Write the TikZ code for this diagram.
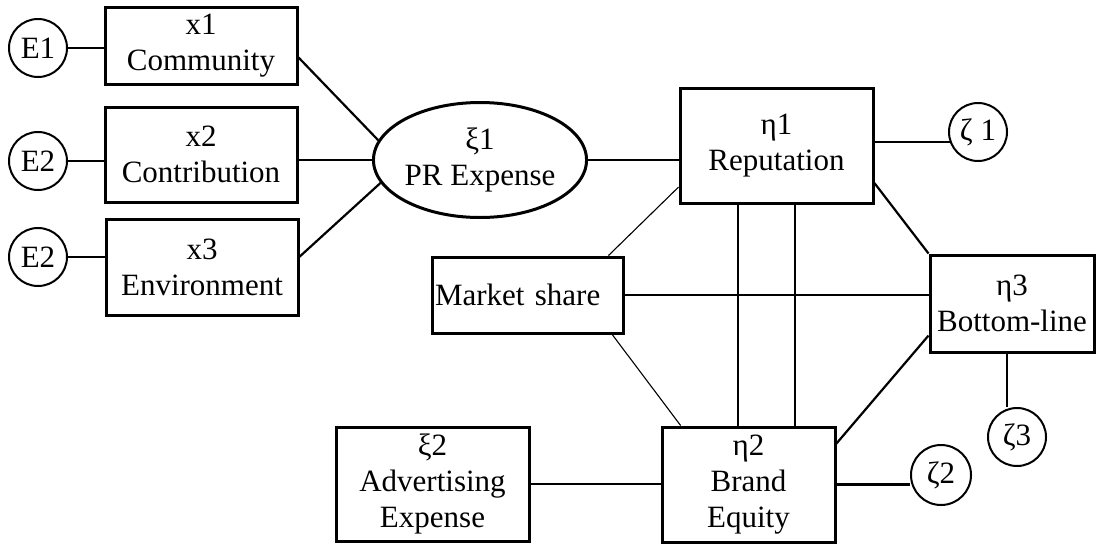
\documentclass[tikz,border=0pt]{standalone}
\usepackage{fontspec}
\setmainfont{Liberation Serif}
\usetikzlibrary{shapes.geometric}

\begin{document}
\begin{tikzpicture}[x=1pt, y=-1pt,
	every node/.style={font=\fontsize{31}{36}\selectfont},
	box/.style={draw, line width=3pt, inner sep=0pt, align=center},
	err/.style={circle, draw, line width=2pt, inner sep=0pt, minimum size=58pt},
	link/.style={line width=2.2pt},
	thinlink/.style={line width=1.1pt}]
	\useasboundingbox (0,0) rectangle (1097,544);

	%% ========================================================
	%% exogenous indicators
	\node[box, minimum width=192pt, minimum height=77pt] (x1) at (201,45.5) {x1\\Community};
	\node[box, minimum width=192pt, minimum height=95pt] (x2) at (201,154.5) {x2\\Contribution};
	\node[box, minimum width=192pt, minimum height=96pt] (x3) at (202,267) {x3\\Environment};

	\node[err] (E1) at (38,48) {E1};
	\node[err] (E2a) at (38,161) {E2};
	\node[err] (E2b) at (38,257) {E2};

	\draw[link] (E1) -- (E1 -| x1.west);
	\draw[link] (E2a) -- (E2a -| x2.west);
	\draw[link] (E2b) -- (E2b -| x3.west);

	\node[ellipse, draw, line width=3pt, inner sep=0pt, minimum width=210pt, minimum height=115pt, align=center] (PR) at (480,160) {ξ1\\PR Expense};
	\draw[link] (x1.-7) -- (PR.169);
	\draw[link] (PR.west -| x2.east) -- (PR.west);
	\draw[link] (x3.6) -- (PR.193);
	%% ========================================================

	%% ========================================================
	%% latent part
	\node[box, minimum width=193pt, minimum height=115pt] (Rep) at (776.5,145.5) {η1\\Reputation};
	\node[err] (Z1) at (978,132) {ζ 1};
	\node[box, align=left, inner xsep=3pt, text width=185pt, minimum width=191pt, minimum height=76pt] (MS) at (527.5,295) {Market share};
	\node[box, minimum width=164pt, minimum height=97pt] (Bot) at (1012,303.5) {η3\\Bottom-line};
	\node[err] (Z3) at (1017,437) {ζ3};
	\node[box, minimum width=173pt, minimum height=115pt] (BE) at (748.5,484.5) {η2\\Brand\\Equity};
	\node[err, minimum size=60pt] (Z2) at (941,475) {ζ2};
	\node[box, minimum width=193pt, minimum height=114pt] (Adv) at (432.5,484) {ξ2\\Advertising\\Expense};

	\draw[link] (PR.east) -- (PR.east -| Rep.west);
	\draw[link] (Rep.east |- Z1.200) -- (Z1.200);
	\draw[link] (Rep.-21) -- (Bot.north west);
	\draw[thinlink] (Rep.203) -- (MS.26);
	\draw[link] (MS.east) -- (MS.east -| Bot.west);
	\draw[thinlink] (MS.-25.5) -- (BE.139.6);
	\draw[link] ([xshift=-38.5pt]Rep.south) -- ([xshift=-38.5pt]Rep.south |- BE.north);
	\draw[link] ([xshift=18.5pt]Rep.south) -- ([xshift=18.5pt]Rep.south |- BE.north);
	\draw[link] (Bot.201) -- (BE.25.6);
	\draw[link] ([xshift=-5pt]Bot.south) -- ([xshift=-5pt]Bot.south |- Z3.north);
	\draw[link] (BE.east) -- (BE.east -| Z2.west);
	\draw[link] (Adv.east) -- (Adv.east -| BE.west);
	%% ========================================================
\end{tikzpicture}
\end{document}
